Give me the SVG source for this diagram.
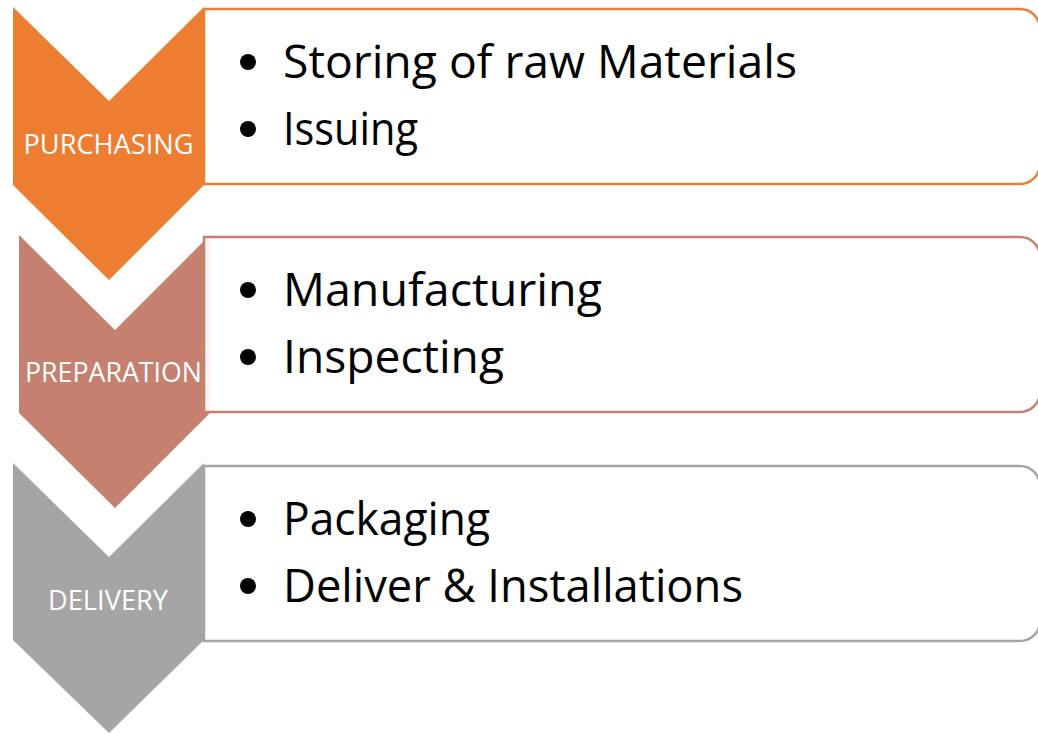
<svg xmlns="http://www.w3.org/2000/svg" width="1038" height="734" viewBox="0 0 1038 734">
<style>
.lbl{font-family:"Open Sans","Noto Sans",sans-serif;font-size:28px;fill:#FFFFFF;text-anchor:middle}
.item{font-family:"Open Sans","Noto Sans",sans-serif;font-size:45px;fill:#000000}
.box{fill:#FFFFFF;fill-opacity:0.9;stroke-width:2.5}
.dot{fill:#000000}
</style>
<rect width="1038" height="734" fill="#FFFFFF"/>
<g id="purchasing">
<path d="M13,7 L109,101 L204,7 L204,185 L109,280 L13,185 Z" fill="#ED7D31"/>
<text class="lbl" x="108.5" y="154" textLength="170" lengthAdjust="spacingAndGlyphs">PURCHASING</text>
<path class="box" d="M204,9 H1020 A20,20 0 0 1 1040,29 V164 A20,20 0 0 1 1020,184 H204 Z" stroke="#ED7D31"/>
<circle class="dot" cx="248" cy="62" r="8"/>
<text class="item" x="283" y="78" textLength="514" lengthAdjust="spacingAndGlyphs">Storing of raw Materials</text>
<circle class="dot" cx="248" cy="129" r="8"/>
<text class="item" x="283" y="145" textLength="135" lengthAdjust="spacingAndGlyphs">Issuing</text>
</g>
<g id="preparation">
<path d="M19,235 L115,330 L210,235 L210,413 L115,508 L19,413 Z" fill="#C5806F"/>
<text class="lbl" x="113.5" y="382" textLength="177" lengthAdjust="spacingAndGlyphs">PREPARATION</text>
<path class="box" d="M204,237 H1020 A20,20 0 0 1 1040,257 V392 A20,20 0 0 1 1020,412 H204 Z" stroke="#C5806F"/>
<circle class="dot" cx="248" cy="290" r="8"/>
<text class="item" x="283" y="306" textLength="319" lengthAdjust="spacingAndGlyphs">Manufacturing</text>
<circle class="dot" cx="248" cy="357" r="8"/>
<text class="item" x="283" y="373" textLength="221" lengthAdjust="spacingAndGlyphs">Inspecting</text>
</g>
<g id="delivery">
<path d="M13,463 L109,557 L204,463 L204,640 L109,733 L13,640 Z" fill="#A5A5A5"/>
<text class="lbl" x="108" y="610" textLength="120" lengthAdjust="spacingAndGlyphs">DELIVERY</text>
<path class="box" d="M204,466 H1020 A20,20 0 0 1 1040,486 V621 A20,20 0 0 1 1020,641 H204 Z" stroke="#A5A5A5"/>
<circle class="dot" cx="248" cy="519" r="8"/>
<text class="item" x="283" y="535" textLength="207" lengthAdjust="spacingAndGlyphs">Packaging</text>
<circle class="dot" cx="248" cy="586" r="8"/>
<text class="item" x="283" y="602" textLength="460" lengthAdjust="spacingAndGlyphs">Deliver &amp; Installations</text>
</g>
<g id="connectors"/>
</svg>
